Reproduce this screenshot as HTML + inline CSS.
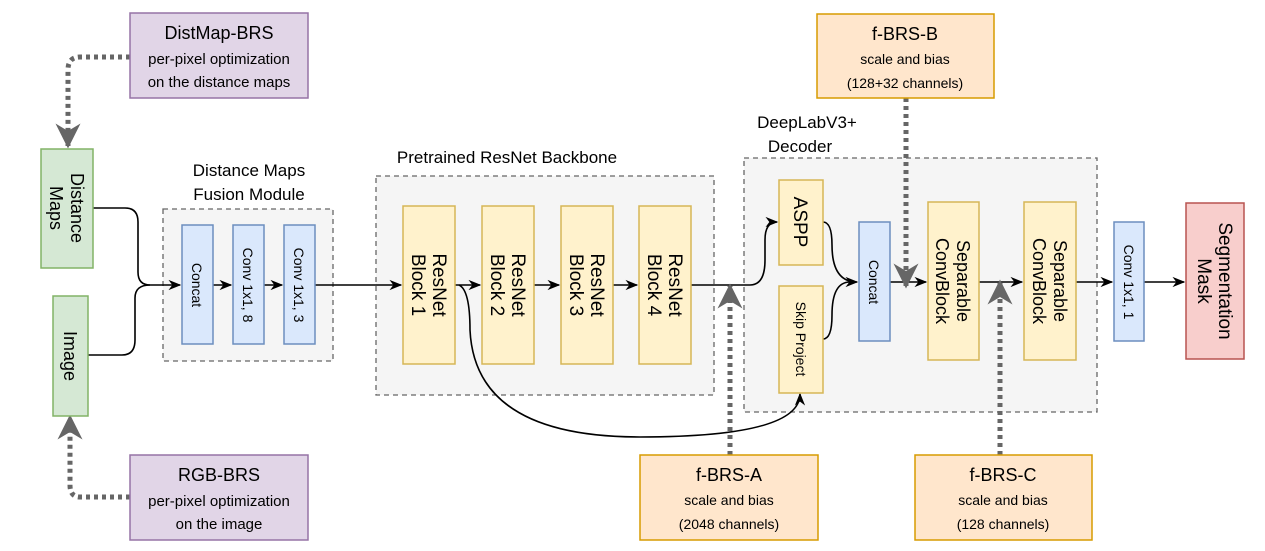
<!DOCTYPE html>
<html><head><meta charset="utf-8"><style>
html,body{margin:0;padding:0;background:#fff;}
svg{display:block;font-family:"Liberation Sans",sans-serif;}
</style></head><body>
<svg width="1265" height="551" viewBox="0 0 1265 551" xmlns="http://www.w3.org/2000/svg">
<defs>
<marker id="a" viewBox="0 0 10 10" refX="9" refY="5" markerWidth="8" markerHeight="8" orient="auto"><path d="M0,1 L10,5 L0,9 L3,5 Z" fill="#000"/></marker>
<marker id="g" viewBox="0 0 10 10" refX="9" refY="5" markerWidth="5" markerHeight="5" orient="auto"><path d="M0,0 L10,5 L0,10 L3,5 Z" fill="#666"/></marker>
</defs>
<rect x="163" y="209" width="170" height="152" fill="#f5f5f5" stroke="#666" stroke-dasharray="5 4" stroke-width="1.3"/>
<rect x="376" y="176" width="338" height="219" fill="#f5f5f5" stroke="#666" stroke-dasharray="5 4" stroke-width="1.3"/>
<rect x="744" y="158" width="353" height="254" fill="#f5f5f5" stroke="#666" stroke-dasharray="5 4" stroke-width="1.3"/>
<g font-size="17" fill="#000" text-anchor="middle">
<text x="249" y="176">Distance Maps</text><text x="249" y="200">Fusion Module</text>
<text x="507" y="163">Pretrained ResNet Backbone</text>
<text x="807" y="128">DeepLabV3+</text><text x="800" y="152">Decoder</text>
</g>
<g fill="none" stroke="#000" stroke-width="1.6">
<path d="M93,208 H125 Q138,208 138,222 V272 Q138,285 150,285 H180" marker-end="url(#a)"/>
<path d="M88,355 H122 Q135,355 135,340 V298 Q135,285 150,285"/>
<path d="M213,285 H231" marker-end="url(#a)"/>
<path d="M264,285 H282" marker-end="url(#a)"/>
<path d="M315,285 H401" marker-end="url(#a)"/>
<path d="M455,285 H480" marker-end="url(#a)"/>
<path d="M534,285 H559" marker-end="url(#a)"/>
<path d="M613,285 H637" marker-end="url(#a)"/>
<path d="M691,285 H750 Q765,285 765,260 V240 Q765,222 777,222" marker-end="url(#a)"/>
<path d="M823,222 Q832,222 832,245 Q832,282 857,282" marker-end="url(#a)"/>
<path d="M823,339 Q832,339 832,315 Q832,282 850,282"/>
<path d="M459,285 Q470,290 470,330 Q475,437 640,437 Q800,437 800,394" marker-end="url(#a)"/>
<path d="M890,282 H926" marker-end="url(#a)"/>
<path d="M979,282 H1022" marker-end="url(#a)"/>
<path d="M1076,282 H1112" marker-end="url(#a)"/>
<path d="M1144,282 H1184" marker-end="url(#a)"/>
</g>
<g fill="none" stroke="#666" stroke-width="5" stroke-dasharray="4 4">
<path d="M130,57 H80 Q68,57 68,70 V146" marker-end="url(#g)"/>
<path d="M130,497 H80 Q70,497 70,485 V417" marker-end="url(#g)"/>
<path d="M906,98 V286" marker-end="url(#g)"/>
<path d="M730,455 V286" marker-end="url(#g)"/>
<path d="M1000,455 V282" marker-end="url(#g)"/>
</g>
<g stroke-width="1.5">
<rect x="41" y="149" width="52" height="119" fill="#d5e8d4" stroke="#82b366"/>
<rect x="53" y="296" width="35" height="120" fill="#d5e8d4" stroke="#82b366"/>
<rect x="130" y="13" width="178" height="85" fill="#e1d5e7" stroke="#9673a6"/>
<rect x="130" y="455" width="178" height="85" fill="#e1d5e7" stroke="#9673a6"/>
<rect x="182" y="225" width="31" height="119" fill="#dae8fc" stroke="#6c8ebf"/>
<rect x="233" y="225" width="31" height="119" fill="#dae8fc" stroke="#6c8ebf"/>
<rect x="284" y="225" width="31" height="119" fill="#dae8fc" stroke="#6c8ebf"/>
<rect x="403" y="206" width="52" height="158" fill="#fff2cc" stroke="#d6b656"/>
<rect x="482" y="206" width="52" height="158" fill="#fff2cc" stroke="#d6b656"/>
<rect x="561" y="206" width="52" height="158" fill="#fff2cc" stroke="#d6b656"/>
<rect x="639" y="206" width="52" height="158" fill="#fff2cc" stroke="#d6b656"/>
<rect x="779" y="180" width="44" height="85" fill="#fff2cc" stroke="#d6b656"/>
<rect x="779" y="286" width="44" height="107" fill="#fff2cc" stroke="#d6b656"/>
<rect x="859" y="222" width="31" height="119" fill="#dae8fc" stroke="#6c8ebf"/>
<rect x="928" y="202" width="51" height="158" fill="#fff2cc" stroke="#d6b656"/>
<rect x="1024" y="202" width="52" height="158" fill="#fff2cc" stroke="#d6b656"/>
<rect x="1114" y="222" width="30" height="119" fill="#dae8fc" stroke="#6c8ebf"/>
<rect x="1186" y="203" width="58" height="156" fill="#f8cecc" stroke="#b85450"/>
<rect x="817" y="14" width="177" height="84" fill="#ffe6cc" stroke="#d79b00"/>
<rect x="640" y="455" width="178" height="85" fill="#ffe6cc" stroke="#d79b00"/>
<rect x="915" y="455" width="177" height="85" fill="#ffe6cc" stroke="#d79b00"/>
</g>
<g text-anchor="middle" fill="#000">
<text x="219" y="39" font-size="18">DistMap-BRS</text>
<text x="219" y="64" font-size="15">per-pixel optimization</text>
<text x="219" y="87" font-size="15">on the distance maps</text>
<text x="219" y="481" font-size="18">RGB-BRS</text>
<text x="219" y="506" font-size="15">per-pixel optimization</text>
<text x="219" y="529" font-size="15">on the image</text>
<text x="905" y="40" font-size="18">f-BRS-B</text>
<text x="905" y="64" font-size="14">scale and bias</text>
<text x="905" y="88" font-size="14">(128+32 channels)</text>
<text x="729" y="481" font-size="18">f-BRS-A</text>
<text x="729" y="505" font-size="14">scale and bias</text>
<text x="729" y="529" font-size="14">(2048 channels)</text>
<text x="1003" y="481" font-size="18">f-BRS-C</text>
<text x="1003" y="505" font-size="14">scale and bias</text>
<text x="1003" y="529" font-size="14">(128 channels)</text>
</g>
<g text-anchor="middle" fill="#000">
<text transform="translate(67,208) rotate(90)" font-size="18"><tspan x="0" y="-4">Distance</tspan><tspan x="0" y="17">Maps</tspan></text>
<text transform="translate(70,356) rotate(90)" font-size="18" y="6">Image</text>
<text transform="translate(197,285) rotate(90)" font-size="14" y="5">Concat</text>
<text transform="translate(248,285) rotate(90)" font-size="14" y="5">Conv 1x1, 8</text>
<text transform="translate(299,285) rotate(90)" font-size="14" y="5">Conv 1x1, 3</text>
<text transform="translate(429,285) rotate(90)" font-size="19"><tspan x="0" y="-4">ResNet</tspan><tspan x="0" y="17">Block 1</tspan></text>
<text transform="translate(508,285) rotate(90)" font-size="19"><tspan x="0" y="-4">ResNet</tspan><tspan x="0" y="17">Block 2</tspan></text>
<text transform="translate(587,285) rotate(90)" font-size="19"><tspan x="0" y="-4">ResNet</tspan><tspan x="0" y="17">Block 3</tspan></text>
<text transform="translate(665,285) rotate(90)" font-size="19"><tspan x="0" y="-4">ResNet</tspan><tspan x="0" y="17">Block 4</tspan></text>
<text transform="translate(801,222) rotate(90)" font-size="19" y="7">ASPP</text>
<text transform="translate(801,339) rotate(90)" font-size="14" y="5">Skip Project</text>
<text transform="translate(874,282) rotate(90)" font-size="14" y="5">Concat</text>
<text transform="translate(953,281) rotate(90)" font-size="18"><tspan x="0" y="-4">Separable</tspan><tspan x="0" y="17">ConvBlock</tspan></text>
<text transform="translate(1050,281) rotate(90)" font-size="18"><tspan x="0" y="-4">Separable</tspan><tspan x="0" y="17">ConvBlock</tspan></text>
<text transform="translate(1129,282) rotate(90)" font-size="14" y="5">Conv 1x1, 1</text>
<text transform="translate(1215,281) rotate(90)" font-size="19"><tspan x="0" y="-4">Segmentation</tspan><tspan x="0" y="17">Mask</tspan></text>
</g>
</svg>
</body></html>
